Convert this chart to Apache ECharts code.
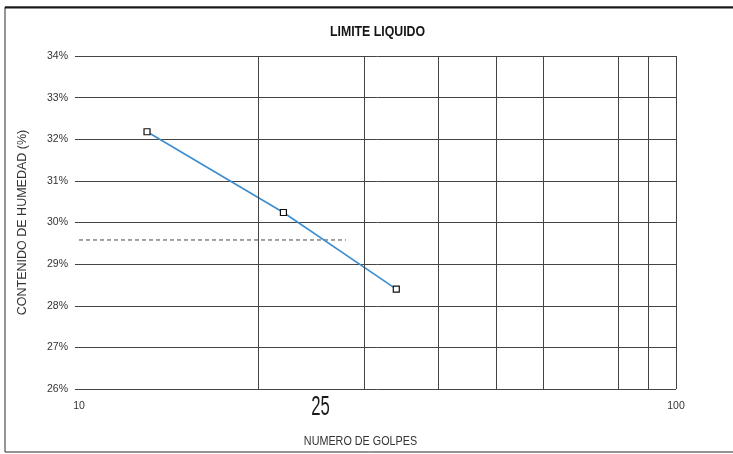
<!DOCTYPE html>
<html>
<head>
<meta charset="utf-8">
<script src="https://cdn.jsdelivr.net/npm/echarts@6/dist/echarts.min.js"></script>
<style>
  html, body { margin: 0; padding: 0; background: #fff; }
  #chart { width: 733px; height: 454px; }
</style>
</head>
<body>
<div id="chart"></div>
<script>
// Liquid limit test: blows (log scale) vs. moisture content
const blows = [13, 22, 34];
const moisture = [32.18, 30.24, 28.40];
const limitMoisture = 29.58;
const limitSpan = [10, 28];
const blowGridLines = [20, 30, 40, 50, 60, 80, 90, 100];
const referenceBlows = 25;
const yMin = 26, yMax = 34;

const titleText = 'LIMITE LIQUIDO';
const xName = 'NUMERO DE GOLPES';
const yName = 'CONTENIDO DE HUMEDAD (%)';

const narrow = '"Liberation Sans Narrow", "Liberation Sans", Arial, sans-serif';
const regular = '"Liberation Sans", Arial, sans-serif';

const chart = echarts.init(document.getElementById('chart'), null, { renderer: 'canvas' });

const option = {
  backgroundColor: '#fff',
  animation: false,
  grid: { left: 79, right: 57, top: 56, bottom: 65 },
  xAxis: {
    type: 'log',
    logBase: 10,
    min: 10,
    max: 100,
    axisLine: { show: false },
    axisTick: { show: false },
    splitLine: { show: false },
    axisLabel: { fontFamily: regular, fontSize: 10.5, color: '#333', margin: 12 }
  },
  yAxis: {
    type: 'value',
    min: yMin,
    max: yMax,
    interval: 1,
    name: yName,
    nameLocation: 'middle',
    nameGap: 50,
    nameRotate: 90,
    nameTextStyle: { fontFamily: narrow, fontSize: 12.5, color: '#333' },
    axisLine: { show: false },
    axisTick: { show: true, inside: false, length: 4, lineStyle: { color: '#444', width: 1 } },
    splitLine: { show: true, lineStyle: { color: '#444', width: 1 } },
    axisLabel: {
      fontFamily: regular, fontSize: 10.5, color: '#333', margin: 11,
      formatter: v => v + '%'
    }
  },
  series: [
    {
      name: 'limite',
      type: 'line',
      data: limitSpan.map(x => [x, limitMoisture]),
      symbol: 'none',
      lineStyle: { color: '#444', width: 1, type: [4, 3] },
      z: 3,
      markLine: {
        silent: true,
        symbol: 'none',
        label: { show: false },
        lineStyle: { color: '#444', width: 1, type: 'solid' },
        data: blowGridLines.map(v => ({ xAxis: v }))
      }
    },
    {
      name: 'humedad',
      type: 'line',
      data: blows.map((b, i) => [b, moisture[i]]),
      symbol: 'rect',
      symbolSize: 6,
      itemStyle: { color: '#fff', borderColor: '#111', borderWidth: 1.2 },
      lineStyle: { color: '#3d8ed0', width: 1.6 },
      z: 4
    }
  ]
};

chart.setOption(option);

// condensed title and axis caption, the 25-blow mark under the axis, and the sheet frame
const x25 = chart.convertToPixel({ xAxisIndex: 0 }, referenceBlows);
const plotMid = (chart.convertToPixel({ xAxisIndex: 0 }, 10) + chart.convertToPixel({ xAxisIndex: 0 }, 100)) / 2;
chart.setOption({
  graphic: [
    {
      type: 'rect',
      shape: { x: 5, y: 7, width: 760, height: 445 },
      style: { fill: 'none', stroke: '#2a2a2a', lineWidth: 1 },
      silent: true
    },
    {
      type: 'line',
      shape: { x1: 5, y1: 7.5, x2: 733, y2: 7.5 },
      style: { stroke: '#1a1a1a', lineWidth: 2 },
      silent: true
    },
    {
      type: 'text',
      x: plotMid,
      y: 32,
      scaleX: 0.88,
      style: {
        text: titleText,
        fontFamily: narrow,
        fontSize: 14,
        fontWeight: 'bold',
        fill: '#151515',
        align: 'center',
        verticalAlign: 'middle'
      }
    },
    {
      type: 'text',
      x: plotMid - 17,
      y: 441,
      scaleX: 0.83,
      style: {
        text: xName,
        fontFamily: narrow,
        fontSize: 13,
        fill: '#333',
        align: 'center',
        verticalAlign: 'middle'
      }
    },
    {
      type: 'text',
      x: x25 + 4,
      y: 408,
      scaleX: 0.62,
      style: {
        text: String(referenceBlows),
        fontFamily: narrow,
        fontSize: 27,
        fill: '#1a1a1a',
        align: 'center',
        verticalAlign: 'middle'
      }
    }
  ]
});
</script>
</body>
</html>
